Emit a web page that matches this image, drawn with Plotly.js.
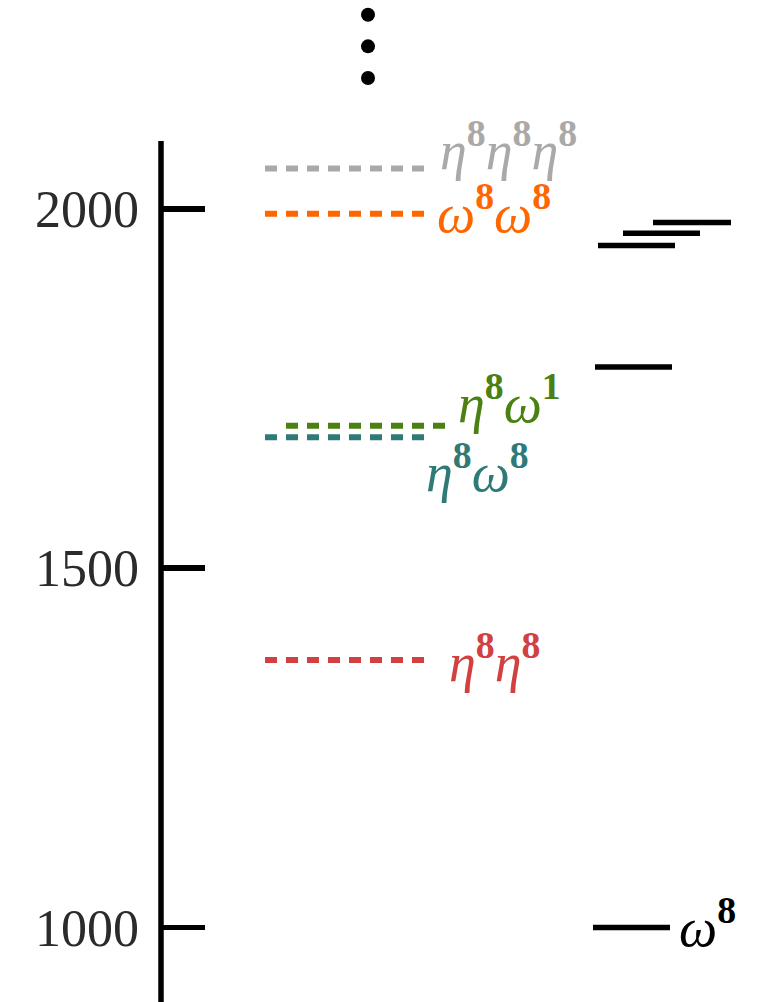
<!DOCTYPE html>
<html>
<head>
<meta charset="utf-8">
<script src="https://cdn.plot.ly/plotly-3.0.1.min.js"></script>
<style>html,body{margin:0;padding:0;background:#fff;}#chart{width:762px;height:1002px;}</style>
</head>
<body>
<div id="chart"></div>
<script>
// ---- data ----
const levelLabels = [
  '<i>η</i><sup><b>8</b></sup><i>η</i><sup><b>8</b></sup><i>η</i><sup><b>8</b></sup>',
  '<i>ω</i><sup><b>8</b></sup><i>ω</i><sup><b>8</b></sup>',
  '<i>η</i><sup><b>8</b></sup><i>ω</i><sup><b>1</b></sup>',
  '<i>η</i><sup><b>8</b></sup><i>ω</i><sup><b>8</b></sup>',
  '<i>η</i><sup><b>8</b></sup><i>η</i><sup><b>8</b></sup>'
];
const levelValues = [2056, 1993, 1698, 1682, 1372];
const spectrumValues = [1000, 1780, 1949, 1966, 1981];
const spectrumLabels = ['<i>ω</i><sup><b>8</b></sup>', '', '', '', ''];
const ellipsisValues = [2182, 2226, 2270];
const tickValues = [1000, 1500, 2000];
const tickLabels = ['1000', '1500', '2000'];
const axisTop = 2094.3;

// ---- styles / layout positions (pixel-like x scale 0..762) ----
const levelColors = ['#a9a9a9', '#ff6600', '#4b8012', '#2f7a77', '#d24040'];
const levelX = [[265, 426], [265, 425], [286, 447], [265, 424], [265, 424]];
const levelLabelX = [438, 435, 456, 424, 447];
const levelLabelShift = [22, 4, 26, -31, 2];
const spectrumX = [[593, 670], [595, 672], [598, 675], [623, 700], [653, 731]];
const spectrumLabelX = [677];
const spectrumLabelShift = [4];
const labelSize = 54;

const traces = [];
const annotations = [];
levelValues.forEach((v, i) => {
  traces.push({
    x: levelX[i], y: [v, v], mode: 'lines', type: 'scatter', hoverinfo: 'skip',
    line: {color: levelColors[i], width: 6, dash: '12px,9px'}
  });
  annotations.push({
    x: levelLabelX[i], y: v, xref: 'x', yref: 'y', text: levelLabels[i],
    showarrow: false, xanchor: 'left', yanchor: 'middle', yshift: levelLabelShift[i],
    font: {family: 'Liberation Serif, serif', size: labelSize, color: levelColors[i]}
  });
});
spectrumValues.forEach((v, i) => {
  traces.push({
    x: spectrumX[i], y: [v, v], mode: 'lines', type: 'scatter', hoverinfo: 'skip',
    line: {color: '#000000', width: 5.5}
  });
  if (spectrumLabels[i]) {
    annotations.push({
      x: spectrumLabelX[i], y: v, xref: 'x', yref: 'y', text: spectrumLabels[i],
      showarrow: false, xanchor: 'left', yanchor: 'middle', yshift: spectrumLabelShift[i],
      font: {family: 'Liberation Serif, serif', size: labelSize, color: '#000000'}
    });
  }
});
traces.push({
  x: ellipsisValues.map(() => 368), y: ellipsisValues, mode: 'markers', type: 'scatter',
  hoverinfo: 'skip',
  marker: {color: '#000000', size: 14}
});

// axis mapping: pixel 0 -> 2290.5, pixel 1002 -> 896.3
const layout = {
  width: 762, height: 1002,
  margin: {l: 0, r: 0, t: 0, b: 0, pad: 0},
  paper_bgcolor: '#ffffff', plot_bgcolor: '#ffffff',
  showlegend: false,
  xaxis: {range: [0, 762], visible: false, fixedrange: true},
  yaxis: {
    range: [896.3, 2290.5], anchor: 'free', position: 161 / 762,
    showline: false,
    ticks: 'inside', ticklen: 43, tickwidth: 5.5, tickcolor: '#000000',
    ticklabelstandoff: 22,
    tickvals: tickValues, ticktext: tickLabels,
    tickfont: {family: 'Liberation Serif, serif', size: 52, color: '#2b2b2b'},
    showgrid: false, zeroline: false, fixedrange: true
  },
  shapes: [{
    type: 'line', xref: 'paper', yref: 'y',
    x0: 161 / 762, x1: 161 / 762, y0: 896.3, y1: axisTop,
    line: {color: '#000000', width: 5.5}
  }],
  annotations: annotations
};
Plotly.newPlot('chart', traces, layout, {displayModeBar: false, staticPlot: true});
</script>
</body>
</html>
